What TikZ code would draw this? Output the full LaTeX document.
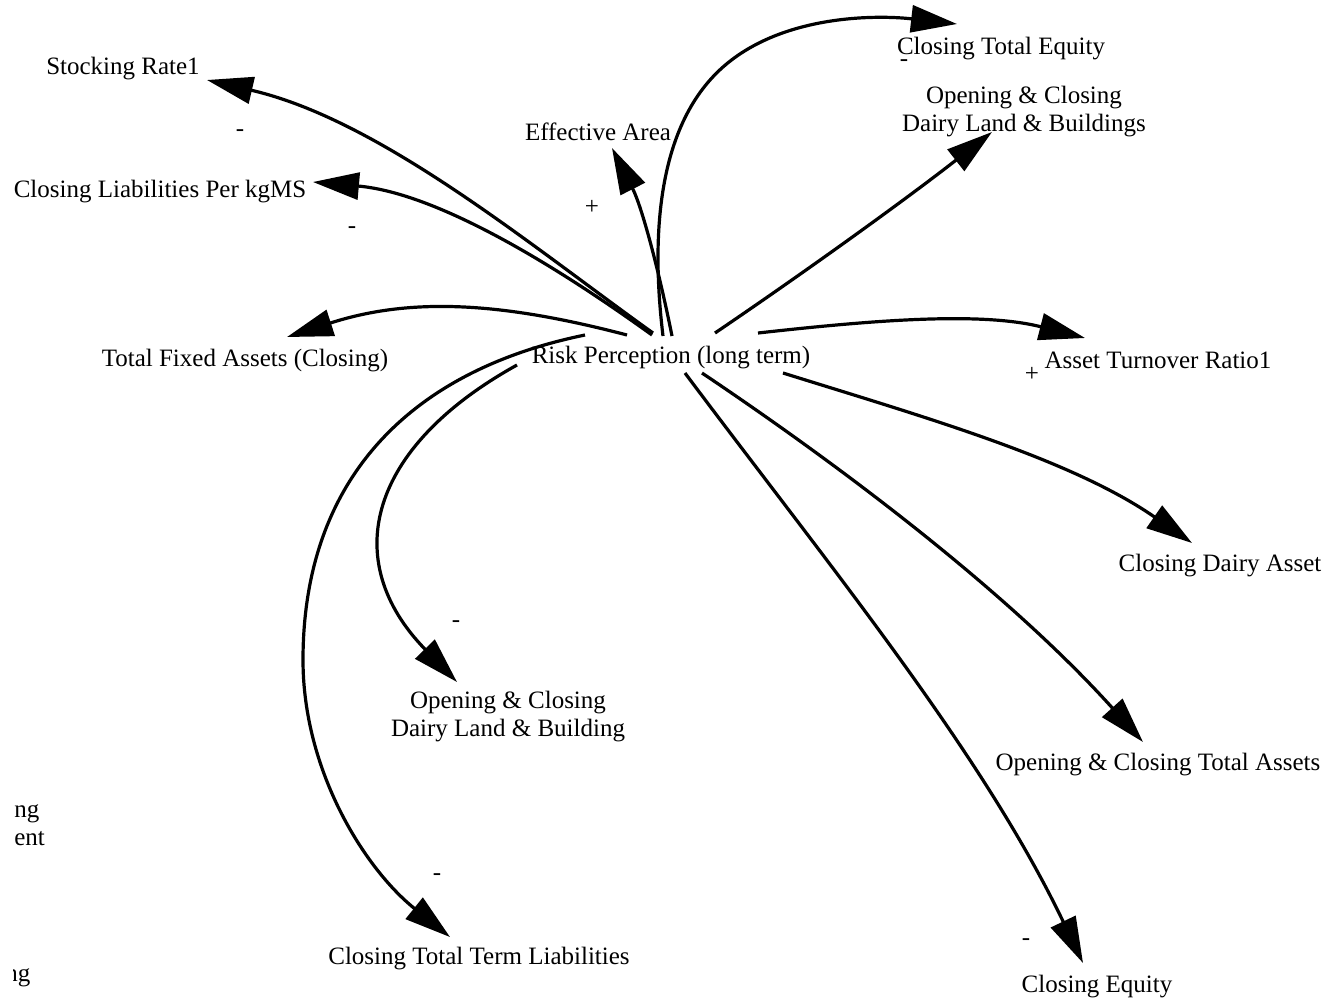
\documentclass[tikz,border=0pt]{standalone}
\usepackage{fontspec}
\setmainfont{Liberation Serif}
\usetikzlibrary{arrows.meta}
\begin{document}
\begin{tikzpicture}[x=0.5pt,y=-0.5pt,
  lbl/.style={font=\fontsize{12.5}{14}\selectfont, align=center, inner sep=0pt},
  sgn/.style={font=\fontsize{12.5}{14}\selectfont, inner sep=0pt},
  link/.style={line width=1.6pt, -{Triangle[length=23pt,width=13.5pt]}}]
\useasboundingbox (0,0) rectangle (1328,997);
\fill[white] (0,0) rectangle (1328,997);

% nodes
\node[lbl] (rp)   at (671,358) {Risk Perception (long term)};
\node[lbl] (sr)   at (123,69)  {Stocking Rate1};
\node[lbl] (clpk) at (160,192) {Closing Liabilities Per kgMS};
\node[lbl] (ea)   at (598,132) {Effective Area};
\node[lbl] (cte)  at (1001,49) {Closing Total Equity};
\node[lbl] (ocdb) at (1024,112) {Opening \& Closing\\Dairy Land \& Buildings};
\node[lbl] (tfa)  at (245,361) {Total Fixed Assets (Closing)};
\node[lbl] (atr)  at (1158,360) {Asset Turnover Ratio1};
\node[lbl] (cda)  at (1220,566) {Closing Dairy Asset};
\node[lbl] (octa) at (1158,765) {Opening \& Closing Total Assets};
\node[lbl] (ce)   at (1097,987) {Closing Equity};
\node[lbl] (cttl) at (479,959) {Closing Total Term Liabilities};
\node[lbl] (ocdl) at (508,717) {Opening \& Closing\\Dairy Land \& Building};
% cut-off texts at the left edge
\node[lbl, anchor=west, align=left] (cut1) at (14,825) {ng\\ent};
\begin{scope}
  \clip (13,940) rectangle (80,997);
  \node[lbl, anchor=west] (cut2) at (5,978) {ng};
\end{scope}

% polarity signs
\node[sgn] (p1) at (240,133) {-};
\node[sgn] (p2) at (352,230) {-};
\node[sgn] (p3) at (592,207) {+};
\node[sgn] (p4) at (904,63) {-};
\node[sgn] (p5) at (1032,374) {+};
\node[sgn] (p6) at (456,624) {-};
\node[sgn] (p7) at (437,877) {-};
\node[sgn] (p8) at (1026,942) {-};

% connector end points
\coordinate (s-sr)   at (653,333); \coordinate (t-sr)   at (207,80);
\coordinate (s-clpk) at (652,335); \coordinate (t-clpk) at (313,182);
\coordinate (s-ea)   at (672,336); \coordinate (t-ea)   at (612,148);
\coordinate (s-cte)  at (663,336); \coordinate (m-cte)  at (723,67); \coordinate (t-cte) at (957,24);
\coordinate (s-ocdb) at (715,333); \coordinate (t-ocdb) at (992,132);
\coordinate (s-atr)  at (758,333); \coordinate (t-atr)  at (1085,338);
\coordinate (s-tfa)  at (627,335); \coordinate (t-tfa)  at (287,337);
\coordinate (s-cda)  at (783,373); \coordinate (t-cda)  at (1192,543);
\coordinate (s-octa) at (702,373); \coordinate (t-octa) at (1143,742);
\coordinate (s-ce)   at (685,373); \coordinate (t-ce)   at (1083,963);
\coordinate (s-ocdl) at (517,365); \coordinate (t-ocdl) at (457,682);
\coordinate (s-cttl) at (585,335); \coordinate (m-cttl) at (303,660); \coordinate (t-cttl) at (450,937);

% connectors
\draw[link] (s-sr) .. controls (530,245) and (380,120) .. (t-sr);
\draw[link] (s-clpk) .. controls (552,263) and (436,193) .. (t-clpk);
\draw[link] (s-ea) .. controls (659,271) and (642,207) .. (t-ea);
\draw[link] (s-cte) .. controls (652,245) and (654,128) .. (m-cte)
                    .. controls (783,14) and (878,15) .. (t-cte);
\draw[link] (s-ocdb) .. controls (805,272) and (905,200) .. (t-ocdb);
\draw[link] (s-atr) .. controls (866,321) and (979,311) .. (t-atr);
\draw[link] (s-tfa) .. controls (501,302) and (411,297) .. (t-tfa);
\draw[link] (s-cda) .. controls (924,417) and (1071,459) .. (t-cda);
\draw[link] (s-octa) .. controls (860,479) and (1016,601) .. (t-octa);
\draw[link] (s-ce) .. controls (827,563) and (981,750) .. (t-ce);
\draw[link] (s-ocdl) .. controls (369,447) and (338,560) .. (t-ocdl);
\draw[link] (s-cttl) .. controls (409,371) and (303,480) .. (m-cttl)
                     .. controls (303,770) and (364,868) .. (t-cttl);
\end{tikzpicture}
\end{document}
